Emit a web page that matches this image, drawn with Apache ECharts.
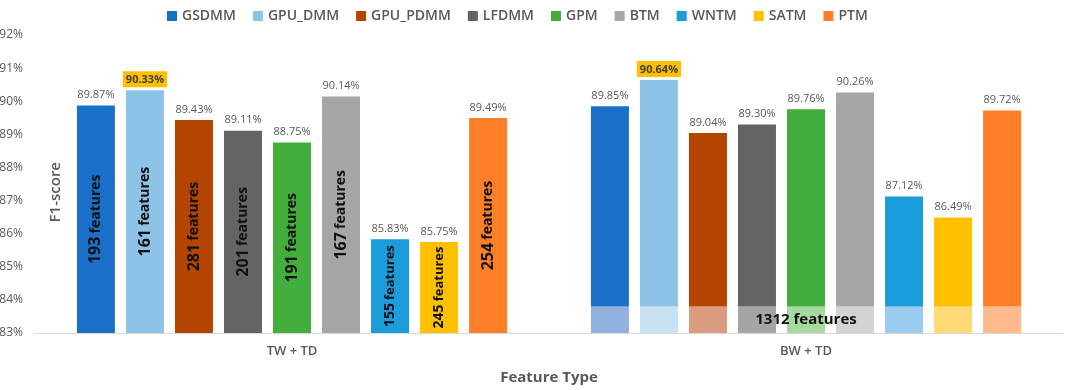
<!DOCTYPE html>
<html>
<head>
<meta charset="utf-8">
<script src="https://cdn.jsdelivr.net/npm/echarts@6/dist/echarts.min.js"></script>
<style>
  html, body { margin: 0; padding: 0; background: #fff; }
  #main { width: 1065px; height: 390px; }
</style>
</head>
<body>
<div id="main"></div>
<script>
// categories / models
var groups = ['TW + TD', 'BW + TD'];
var models = ['GSDMM', 'GPU_DMM', 'GPU_PDMM', 'LFDMM', 'GPM', 'BTM', 'WNTM', 'SATM', 'PTM'];
// F1-score (%)
var twScore = [89.87, 90.33, 89.43, 89.11, 88.75, 90.14, 85.83, 85.75, 89.49];
var bwScore = [89.85, 90.64, 89.04, 89.30, 89.76, 90.26, 87.12, 86.49, 89.72];
// number of features used for TW + TD
var twFeatures = [193, 161, 281, 201, 191, 167, 155, 245, 254];
// shared BW + TD part
var bwBase = 83.8;
var bwFeatures = 1312;
var yTicks = [83, 84, 85, 86, 87, 88, 89, 90, 91, 92];

var colors = ['#1A70C8', '#8EC3E8', '#B34500', '#646464', '#43AE3C', '#A6A6A6', '#1B9CDB', '#FFC000', '#FE7F27'];
var lightColors = ['#92B1DF', '#C8E2F4', '#DA9C7F', '#A5A5A5', '#A8D9A1', '#D3D3D3', '#99CCEE', '#FEDA76', '#FEB98D'];
var txt = '#595959';
var font = '"Open Sans", "Liberation Sans", sans-serif';

// best score per group gets the yellow box
var bestTw = twScore.indexOf(Math.max.apply(null, twScore));
var bestBw = bwScore.indexOf(Math.max.apply(null, bwScore));

var series = [];
for (var i = 0; i < models.length; i++) {
	var midIdx = Math.floor(models.length / 2);
	// lower part: full TW bar, light BW band
	series.push({
		name: models[i],
		type: 'bar',
		stack: 's' + i,
		barWidth: 38,
		barGap: '29%',
		itemStyle: { color: colors[i] },
		data: [
			{
				value: twScore[i],
				label: {
					show: true,
					position: 'inside',
					rotate: 90,
					formatter: '{n|' + twFeatures[i] + '} {f|features}',
					rich: {
						n: { fontFamily: font, fontWeight: 'bold', fontSize: twScore[i] < 87 ? 14 : 16, color: '#111' },
						f: { fontFamily: font, fontWeight: 'bold', fontSize: twScore[i] < 87 ? 13 : 14, color: '#111' }
					}
				}
			},
			{
				value: bwBase,
				itemStyle: { color: lightColors[i] },
				label: {
					show: i === midIdx,
					position: 'inside',
					formatter: bwFeatures + ' features',
					fontFamily: font,
					fontWeight: 'bold',
					fontSize: 15,
					color: '#111'
				}
			}
		],
		z: 2
	});
	// upper part: value label on top
	series.push({
		name: models[i],
		type: 'bar',
		stack: 's' + i,
		barWidth: 38,
		barGap: '29%',
		itemStyle: { color: colors[i] },
		label: {
			show: true,
			position: 'top',
			distance: 5,
			fontFamily: font,
			fontSize: 11,
			color: txt
		},
		data: [
			{
				value: 0,
				label: i === bestTw ? { backgroundColor: '#FFC000', padding: [3, 3, 2, 3], fontWeight: 'bold', color: '#404040', distance: 3 } : {}
			},
			{
				value: bwScore[i] - bwBase,
				label: i === bestBw ? { backgroundColor: '#FFC000', padding: [3, 3, 2, 3], fontWeight: 'bold', color: '#404040', distance: 3 } : {}
			}
		].map(function (d, k) {
			var real = k === 0 ? twScore[i] : bwScore[i];
			d.label.formatter = real.toFixed(2) + '%';
			return d;
		}),
		z: 2
	});
}

var myChart = echarts.init(document.getElementById('main'), null, { renderer: 'canvas' });
var option = {
	animation: false,
	textStyle: { fontFamily: font },
	legend: {
		data: models,
		top: 4,
		left: 162,
		itemWidth: 10,
		itemHeight: 10,
		itemGap: 17,
		icon: 'rect',
		textStyle: { fontFamily: font, fontSize: 14, fontWeight: 600, color: txt }
	},
	grid: {
		left: 35,
		right: 2,
		top: 35,
		bottom: 57,
		containLabel: false,
		outerBoundsMode: 'none'
	},
	xAxis: {
		type: 'category',
		data: groups,
		name: 'Feature Type',
		nameLocation: 'middle',
		nameGap: 37,
		nameTextStyle: { fontFamily: font, fontSize: 15, fontWeight: 'bold', color: txt },
		axisLine: { lineStyle: { color: '#D9D9D9' } },
		axisTick: { show: false },
		axisLabel: { fontFamily: font, fontSize: 13, fontWeight: 600, color: txt, margin: 12 }
	},
	yAxis: {
		type: 'value',
		min: yTicks[0],
		max: yTicks[yTicks.length - 1],
		interval: 1,
		splitLine: { show: false },
		axisLine: { show: false },
		axisTick: { show: false },
		axisLabel: { fontFamily: font, fontSize: 12, color: txt, margin: 12, formatter: '{value}%' }
	},
	graphic: [{
		type: 'text',
		left: 48,
		top: 162,
		rotation: Math.PI / 2,
		style: { text: 'F1-score', fontFamily: font, fontSize: 15, fontWeight: 600, fill: txt }
	}],
	series: series
};
myChart.setOption(option);
</script>
</body>
</html>
